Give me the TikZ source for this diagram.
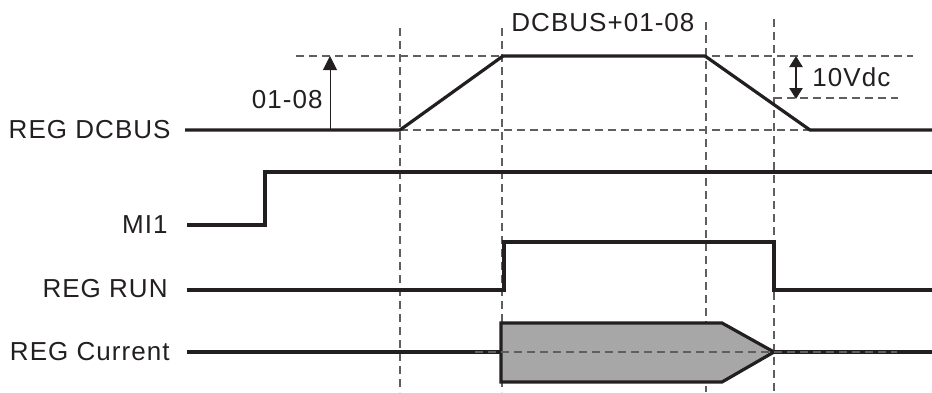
\documentclass[tikz,border=0pt]{standalone}
\usepackage{fontspec}
\setmainfont[LetterSpace=4]{Liberation Sans}
\usetikzlibrary{arrows.meta}
\definecolor{inkcol}{HTML}{231F20}
\definecolor{guidecol}{HTML}{5E5F62}
\definecolor{fillcol}{HTML}{A7A7A7}
\tikzset{
  sig/.style={draw=inkcol, line width=1.6pt, line join=miter},
  guide/.style={draw=guidecol, line width=0.55pt, dash pattern=on 4pt off 2.5pt},
  lbl/.style={font=\fontsize{13}{15}\selectfont, text=inkcol, inner sep=0pt},
  sname/.style={lbl, anchor=east},
}

\begin{document}
\begin{tikzpicture}[x=0.5pt, y=-0.5pt, >=Triangle]
  \useasboundingbox (0,0) rectangle (932,392);
  % time marks and levels
  \coordinate (t1) at (400,28);
  \coordinate (t2) at (502,28);
  \coordinate (t3) at (706,22);
  \coordinate (t4) at (774,19);
  \draw[guide] (t1) -- (400,392);
  \draw[guide] (t2) -- (502,392);
  \draw[guide] (t3) -- (706,392);
  \draw[guide] (t4) -- (774,392);
  \draw[guide] (296,56) -- (913,56);
  \draw[guide] (400,130) -- (810,130);
  \draw[guide] (774,98) -- (898,98);

  % signal names
  \node[sname] (dcbus) at (171,130) {REG DCBUS};
  \node[sname] (mi)    at (168,225) {MI1};
  \node[sname] (run)   at (168,289) {REG RUN};
  \node[sname] (cur)   at (170,352) {REG Current};

  % REG DCBUS
  \draw[sig] (185,130) -- (400,130) -- (503,56) -- (705,56) -- (810,130) -- (932,130);
  \coordinate (lvlA) at (330,130);
  \coordinate (lvlB) at (330,56);
  \draw[->, draw=inkcol, line width=0.5pt, >={Triangle[length=7pt,width=7pt]}] (lvlA) -- (lvlB);
  \node[lbl, anchor=east] (ofs) at (323,100) {01-08};
  \node[lbl, anchor=west] (top) at (511,23) {DCBUS+01-08};
  \coordinate (vA) at (796,56);
  \coordinate (vB) at (796,99);
  \draw[<->, draw=inkcol, line width=1.2pt, >={Triangle[length=5.5pt,width=6.5pt]}] (vA) -- (vB);
  \node[lbl, anchor=west] (volt) at (812,77) {10Vdc};

  % MI1
  \draw[sig] (187,225) -- (265,225) -- (265,172) -- (932,172);

  % REG RUN
  \draw[sig] (187,290) -- (504,290) -- (504,242) -- (774,242) -- (774,290) -- (932,290);

  % REG Current
  \draw[sig] (187,352) -- (501,352);
  \draw[sig, fill=fillcol] (501,323) -- (722,323) -- (774,352) -- (722,382) -- (501,382) -- cycle;
  \draw[sig] (774,352) -- (932,352);
  \draw[guide] (475,352) -- (897,352);
\end{tikzpicture}
\end{document}
